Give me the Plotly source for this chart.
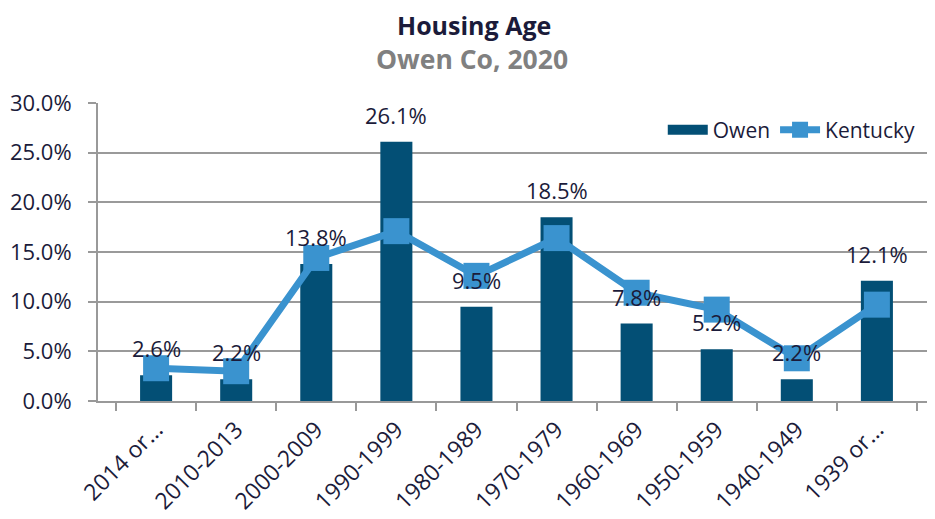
import plotly.graph_objects as go

categories = ["2014 or...", "2010-2013", "2000-2009", "1990-1999", "1980-1989",
              "1970-1979", "1960-1969", "1950-1959", "1940-1949", "1939 or..."]
owen = [2.6, 2.2, 13.8, 26.1, 9.5, 18.5, 7.8, 5.2, 2.2, 12.1]
kentucky = [3.3, 3.0, 14.4, 17.1, 12.6, 16.4, 10.9, 9.2, 4.3, 9.7]
y_ticks = [0, 5, 10, 15, 20, 25, 30]

font_family = "Open Sans, Liberation Sans, sans-serif"
dark = "#1b1b3a"
bar_color = "#034f75"
line_color = "#3a93cf"

# page body has an 8px margin; figure is sized so the page matches 935x519
OFF = 8
W, H = 935 - OFF, 519 - OFF
ML, MR, MT = 98 - OFF, 0, 103 - OFF
PH = 298
MB = H - MT - PH
PW = W - ML - MR

fig = go.Figure()
fig.add_trace(go.Bar(
    x=categories, y=owen, name="Owen", showlegend=False,
    marker=dict(color=bar_color, line=dict(width=0)),
    width=0.4,
))
# legend entry for the bars, drawn as a wide block like the reference
fig.add_trace(go.Scatter(
    x=[None], y=[None], name="Owen", mode="lines",
    line=dict(color=bar_color, width=15),
))
fig.add_trace(go.Scatter(
    x=categories, y=kentucky, name="Kentucky", mode="lines+markers",
    line=dict(color=line_color, width=7),
    marker=dict(symbol="square", size=26, color=line_color),
))
for c, v in zip(categories, owen):
    fig.add_annotation(x=c, y=v, text=f"{v:.1f}%", showarrow=False,
                       yanchor="middle", yshift=27,
                       font=dict(size=22, color=dark, family=font_family))

# Title and subtitle
fig.add_annotation(xref="paper", yref="paper", x=(474 - OFF - ML) / PW, y=1 + (MT - (25 - OFF)) / PH,
                   text="<b>Housing Age</b>", showarrow=False,
                   xanchor="center", yanchor="middle",
                   font=dict(size=25, color=dark, family=font_family))
fig.add_annotation(xref="paper", yref="paper", x=(472 - OFF - ML) / PW, y=1 + (MT - (59 - OFF)) / PH,
                   text="<b>Owen Co, 2020</b>", showarrow=False,
                   xanchor="center", yanchor="middle",
                   font=dict(size=26.5, color="#808080", family=font_family))

fig.update_layout(
    width=W, height=H,
    margin=dict(l=ML, r=MR, t=MT, b=MB, autoexpand=False),
    paper_bgcolor="white", plot_bgcolor="white",
    font=dict(family=font_family, color=dark, size=17),
    showlegend=True,
    legend=dict(orientation="h", x=0.983, xanchor="right", y=1 - (130 - OFF - MT) / PH, yanchor="middle",
                font=dict(size=21, color=dark), bgcolor="rgba(0,0,0,0)",
                itemwidth=40, traceorder="normal"),
    bargap=0.6,
)
fig.update_xaxes(
    type="category", tickangle=-45, tickson="boundaries", automargin=False,
    ticks="outside", ticklen=8, tickcolor="#999999", tickwidth=2,
    showline=True, linecolor="#999999", linewidth=2, ticklabelstandoff=4,
    showgrid=False, tickfont=dict(size=23, color=dark),
)
fig.update_yaxes(
    range=[0, 30], tickvals=y_ticks, ticktext=[f"{t:.1f}%" for t in y_ticks],
    automargin=False, ticklabelstandoff=12,
    ticks="outside", ticklen=8, tickcolor="#999999", tickwidth=2,
    showline=True, linecolor="#999999", linewidth=2,
    showgrid=True, gridcolor="#9a9a9a", gridwidth=2,
    tickfont=dict(size=22, color=dark), zeroline=False,
)

fig.write_html("out.html")
